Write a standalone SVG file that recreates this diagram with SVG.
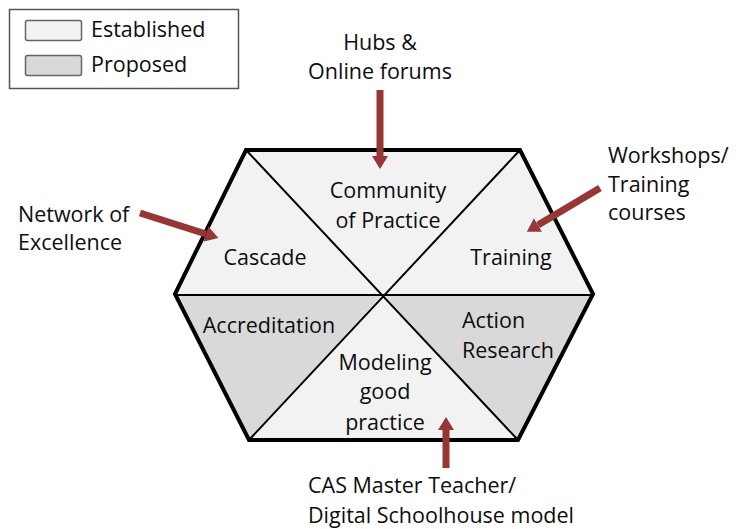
<svg xmlns="http://www.w3.org/2000/svg" width="736" height="529" viewBox="0 0 736 529">
<style>
text{font-family:"Open Sans","Liberation Sans",sans-serif;font-size:21.5px;fill:#0d0d0d}
.est{fill:#f2f2f2}
.pro{fill:#d9d9d9}
.in{stroke:#000;stroke-width:2;fill:none}
.arr{stroke:#953735;stroke-width:7;fill:none}
.c{text-anchor:middle}
</style>
<defs>
<marker id="ah" markerUnits="userSpaceOnUse" markerWidth="13" markerHeight="17" refX="0" refY="8" orient="auto" viewBox="0 0 13 16">
<path d="M0,0 L13,8 L0,16 z" fill="#953735"/>
</marker>
</defs>
<rect width="736" height="529" fill="#fff"/>
<g id="legend">
<rect x="9.5" y="9.5" width="229" height="79" fill="#fff" stroke="#555" stroke-width="1.5"/>
<rect x="25.5" y="20.5" width="56" height="20" rx="2" class="est" stroke="#666" stroke-width="1.5"/>
<text x="91" y="37">Established</text>
<rect x="25.5" y="55.5" width="56" height="20" rx="2" class="pro" stroke="#666" stroke-width="1.5"/>
<text x="91" y="72">Proposed</text>
</g>
<g id="hexagon">
<polygon id="cascade" class="est" points="246,150 383,294 175,294"/>
<polygon id="community" class="est" points="246,150 520,150 383,294"/>
<polygon id="training" class="est" points="520,150 593,294 383,294"/>
<polygon id="action" class="pro" points="383,294 593,294 518,440"/>
<polygon id="modeling" class="est" points="383,294 518,440 249,440"/>
<polygon id="accreditation" class="pro" points="175,294 383,294 249,440"/>
<path class="in" d="M246,150 L518,440 M520,150 L249,440 M175,295 L593,295"/>
<polygon points="246,150 520,150 593,294 518,440 249,440 175,294" fill="none" stroke="#000" stroke-width="4" stroke-linejoin="miter"/>
</g>
<g id="labels">
<text class="c" x="388" y="198">Community</text>
<text class="c" x="388" y="228">of Practice</text>
<text class="c" x="265" y="265">Cascade</text>
<text class="c" x="511" y="265">Training</text>
<text class="c" x="269" y="333">Accreditation</text>
<text x="462" y="328">Action</text>
<text x="462" y="358">Research</text>
<text class="c" x="385" y="370">Modeling</text>
<text class="c" x="385" y="399">good</text>
<text class="c" x="385" y="430">practice</text>
</g>
<g id="sources">
<text class="c" x="380" y="50">Hubs &amp;</text>
<text class="c" x="380" y="79">Online forums</text>
<text x="608" y="163">Workshops/</text>
<text x="608" y="192">Training</text>
<text x="608" y="220">courses</text>
<text x="18" y="222">Network of</text>
<text x="18" y="250">Excellence</text>
<text x="308" y="493">CAS Master Teacher/</text>
<text x="308" y="523">Digital Schoolhouse model</text>
</g>
<g id="connectors">
<line class="arr" x1="380" y1="90" x2="380" y2="156" marker-end="url(#ah)"/>
<line class="arr" x1="140" y1="213" x2="206" y2="234" marker-end="url(#ah)"/>
<line class="arr" x1="600" y1="188" x2="538" y2="225" marker-end="url(#ah)"/>
<line class="arr" x1="446" y1="468" x2="446" y2="430" marker-end="url(#ah)"/>
</g>
</svg>
